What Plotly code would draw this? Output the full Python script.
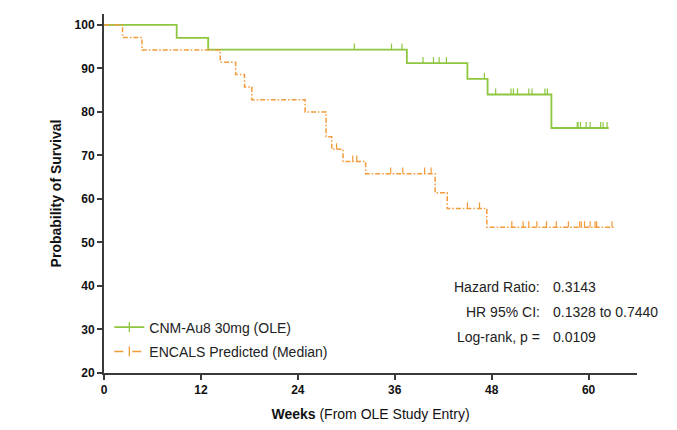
import numpy as np
import plotly.graph_objects as go

# Kaplan-Meier step data (weeks, % surviving)
cnm_times = [0, 9.0, 12.9, 37.5, 45.0, 47.5, 55.4]
cnm_surv = [100, 97.0, 94.3, 91.2, 87.6, 84.0, 76.3]
cnm_end = 62.5
cnm_censored = [31.0, 35.6, 36.9, 39.5, 40.8, 41.5, 42.4, 47.1, 48.5, 50.4, 50.7,
                51.2, 52.6, 53.0, 54.6, 54.9, 58.6, 58.7, 59.0, 59.7, 60.2, 61.5,
                61.8, 62.3]

encals_times = [0, 2.3, 4.7, 14.4, 16.3, 17.4, 18.3, 24.9, 27.5, 28.2, 29.6, 32.4,
                41.0, 42.5, 47.4]
encals_surv = [100, 97.1, 94.2, 91.4, 88.6, 85.7, 82.8, 80.0, 74.3, 71.4, 68.6,
               65.8, 61.4, 57.8, 53.5]
encals_end = 63.1
encals_censored = [28.8, 30.8, 31.3, 35.5, 37.0, 39.7, 40.5, 45.0, 46.5, 50.5, 51.9,
                   52.6, 53.6, 54.8, 56.0, 57.5, 58.9, 59.1, 59.5, 60.2, 60.8, 61.0,
                   62.9]

series_names = ["CNM-Au8 30mg (OLE)", "ENCALS Predicted (Median)"]
x_ticks = [0, 12, 24, 36, 48, 60]
y_ticks = [20, 30, 40, 50, 60, 70, 80, 90, 100]

stats_labels = ["Hazard Ratio:", "HR 95% CI:", "Log-rank, p ="]
stats_values = ["0.3143", "0.1328 to 0.7440", "0.0109"]

GREEN = "#8DC63F"
ORANGE = "#F39A3A"
AXIS = "#3a3a3a"
FONT = "Liberation Sans, Arial, sans-serif"


def step_level(times, surv, t):
    idx = np.searchsorted(np.asarray(times), t, side="right") - 1
    return surv[idx]


fig = go.Figure()

curves = [
    (cnm_times, cnm_surv, cnm_end, cnm_censored, GREEN, "solid", 1.8),
    (encals_times, encals_surv, encals_end, encals_censored, ORANGE,
     "5px,2px,1.5px,2px", 1.5),
]

for name, (times, surv, end, cens, color, dash, width) in zip(series_names, curves):
    xs = list(times) + [end]
    ys = list(surv) + [surv[-1]]
    fig.add_trace(go.Scatter(
        x=xs, y=ys, mode="lines", line=dict(color=color, width=width, dash=dash,
                                            shape="hv"),
        showlegend=False, hoverinfo="skip",
    ))
    # censor ticks drawn as upward error bars on the step level
    cy = [step_level(times, surv, t) for t in cens]
    fig.add_trace(go.Scatter(
        x=cens, y=cy, mode="markers", marker=dict(size=1, opacity=0),
        error_y=dict(type="constant", value=1.4, symmetric=False, valueminus=0,
                     width=0, thickness=1.2, color=color),
        showlegend=False, hoverinfo="skip",
    ))
    # legend entry
    fig.add_trace(go.Scatter(
        x=[None], y=[None], mode="lines+markers", name=name, legendgroup=name,
        line=dict(color=color, width=width, dash=dash if dash == "solid" else "dash"),
        marker=dict(symbol="line-ns-open", size=7, line=dict(color=color, width=1.3)),
    ))

for i, (lab, val) in enumerate(zip(stats_labels, stats_values)):
    yv = 39.8 - i * 5.75
    fig.add_annotation(x=54.2, y=yv, text=lab, showarrow=False, xanchor="right",
                       font=dict(size=14, color="#222", family=FONT))
    fig.add_annotation(x=55.3, y=yv, text=val, showarrow=False, xanchor="left",
                       font=dict(size=14, color="#222", family=FONT))

fig.update_layout(
    width=677, height=430,
    margin=dict(l=104, r=40, t=14, b=57),
    paper_bgcolor="white", plot_bgcolor="white",
    font=dict(family=FONT, color="#222"),
    showlegend=True,
    legend=dict(x=0.01, y=0.171, xanchor="left", yanchor="top",
                bgcolor="rgba(0,0,0,0)", font=dict(size=14, color="#222"),
                traceorder="grouped", tracegroupgap=3, itemwidth=30),
)

fig.update_xaxes(
    range=[0, 66], tickvals=x_ticks, ticktext=[f"<b>{t}</b>" for t in x_ticks],
    showline=True, linecolor=AXIS, linewidth=2, ticks="outside", ticklen=5,
    tickwidth=2, tickcolor=AXIS, showgrid=False, zeroline=False, automargin=False,
    tickfont=dict(size=12, color="#111"),
    title=dict(text="<b>Weeks</b> (From OLE Study Entry)", standoff=13,
               font=dict(size=14, color="#111")),
)
fig.update_yaxes(
    range=[20, 102.5], tickvals=y_ticks, ticktext=[f"<b>{t}</b>" for t in y_ticks],
    showline=True, linecolor=AXIS, linewidth=2, ticks="outside", ticklen=5,
    tickwidth=2, tickcolor=AXIS, showgrid=False, zeroline=False, automargin=False,
    tickfont=dict(size=12, color="#111"),
    title=dict(text="<b>Probability of Survival</b>", standoff=10,
               font=dict(size=14, color="#111")),
)

fig.write_html("out.html")
